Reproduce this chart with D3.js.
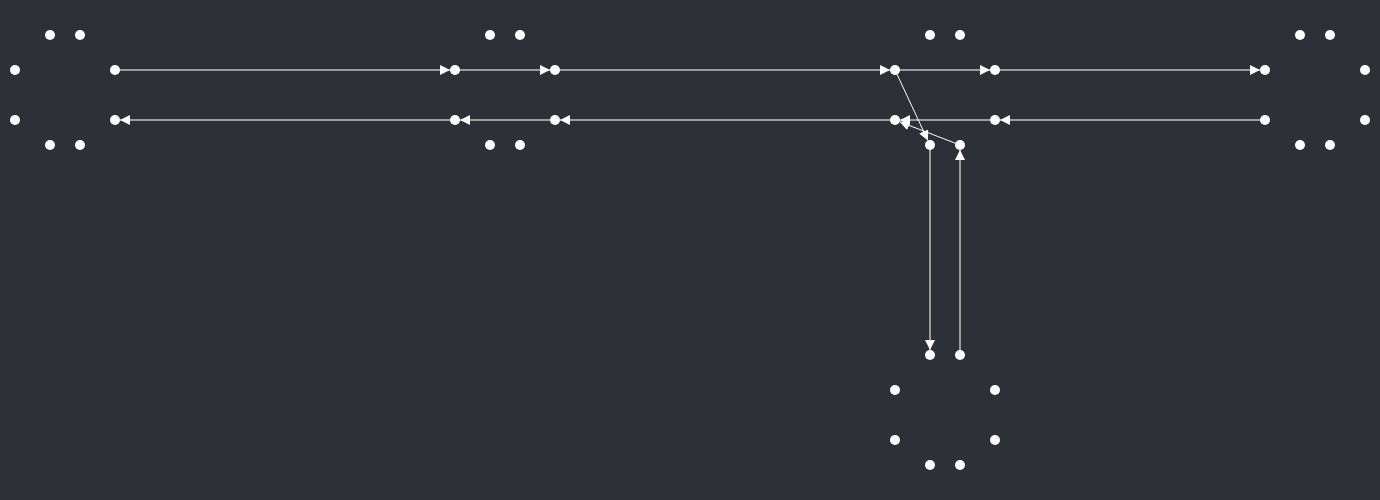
<!DOCTYPE html>
<html>
<head>
<meta charset="utf-8">
<script src="https://cdn.jsdelivr.net/npm/d3@7"></script>
<style>
  html, body { margin: 0; padding: 0; background: #2e3038; }
  svg { display: block; }
</style>
</head>
<body>
<svg width="1380" height="500"></svg>
<script>
// junction ports: id, x, y (in network units)
let nodes = [
  ["A_n1", 50, 35], ["A_n2", 80, 35], ["A_w1", 15, 70], ["A_e1", 115, 70],
  ["A_w2", 15, 120], ["A_e2", 115, 120], ["A_s1", 50, 145], ["A_s2", 80, 145],
  ["B_n1", 490, 35], ["B_n2", 520, 35], ["B_w1", 455, 70], ["B_e1", 555, 70],
  ["B_w2", 455, 120], ["B_e2", 555, 120], ["B_s1", 490, 145], ["B_s2", 520, 145],
  ["C_n1", 930, 35], ["C_n2", 960, 35], ["C_w1", 895, 70], ["C_e1", 995, 70],
  ["C_w2", 895, 120], ["C_e2", 995, 120], ["C_s1", 930, 145], ["C_s2", 960, 145],
  ["D_n1", 1300, 35], ["D_n2", 1330, 35], ["D_w1", 1265, 70], ["D_e1", 1365, 70],
  ["D_w2", 1265, 120], ["D_e2", 1365, 120], ["D_s1", 1300, 145], ["D_s2", 1330, 145],
  ["E_n1", 930, 355], ["E_n2", 960, 355], ["E_w1", 895, 390], ["E_e1", 995, 390],
  ["E_w2", 895, 440], ["E_e2", 995, 440], ["E_s1", 930, 465], ["E_s2", 960, 465]
]

// road links between junctions and through lanes
let roads = [
  ["A_e1", "B_w1"], ["B_w1", "B_e1"], ["B_e1", "C_w1"], ["C_w1", "C_e1"], ["C_e1", "D_w1"],
  ["D_w2", "C_e2"], ["C_e2", "C_w2"], ["C_w2", "B_e2"], ["B_e2", "B_w2"], ["B_w2", "A_e2"],
  ["C_s1", "E_n1"], ["E_n2", "C_s2"]
]

// turning movements
let turns = [
  ["C_w1", "C_s1"], ["C_s2", "C_w2"]
]

let W = 1380, H = 500, R = 5

let svg = d3.select("svg")
let x = d3.scaleLinear().domain([0, 1380]).range([0, W])
let y = d3.scaleLinear().domain([0, 500]).range([0, H])

let byId = {}
nodes.forEach(d => byId[d[0]] = {id: d[0], x: d[1], y: d[2]})

svg.append("defs").append("marker")
  .attr("id", "arrow")
  .attr("viewBox", "0 0 10 10")
  .attr("refX", 10).attr("refY", 5)
  .attr("markerUnits", "userSpaceOnUse")
  .attr("markerWidth", 10).attr("markerHeight", 10)
  .attr("orient", "auto")
  .append("path")
  .attr("d", "M0,0L10,5L0,10Z")
  .attr("fill", "#ffffff")

function seg(d) {
  let a = byId[d[0]], b = byId[d[1]]
  let x1 = x(a.x), y1 = y(a.y), x2 = x(b.x), y2 = y(b.y)
  let len = Math.hypot(x2 - x1, y2 - y1)
  return {x1: x1, y1: y1, x2: x2 - (x2 - x1) / len * R, y2: y2 - (y2 - y1) / len * R}
}

svg.append("g").selectAll("line")
  .data(roads)
  .join("line")
  .attr("x1", d => seg(d).x1).attr("y1", d => seg(d).y1)
  .attr("x2", d => seg(d).x2).attr("y2", d => seg(d).y2)
  .attr("stroke", "#9c9c9c")
  .attr("stroke-width", 2)
  .attr("marker-end", "url(#arrow)")

svg.append("g").selectAll("line")
  .data(turns)
  .join("line")
  .attr("x1", d => seg(d).x1).attr("y1", d => seg(d).y1)
  .attr("x2", d => seg(d).x2).attr("y2", d => seg(d).y2)
  .attr("stroke", "#ffffff")
  .attr("stroke-width", 1)
  .attr("marker-end", "url(#arrow)")

svg.append("g").selectAll("circle")
  .data(Object.values(byId))
  .join("circle")
  .attr("cx", d => x(d.x))
  .attr("cy", d => y(d.y))
  .attr("r", R)
  .attr("fill", "#ffffff")
</script>
</body>
</html>
